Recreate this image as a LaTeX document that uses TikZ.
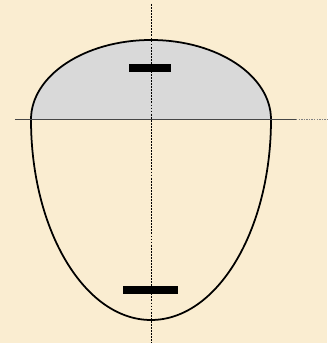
\documentclass[tikz,border=0pt]{standalone}
\usepackage{xcolor}
\definecolor{parch}{RGB}{250,237,209}
\definecolor{domegrey}{RGB}{217,217,217}
\definecolor{axgrey}{RGB}{70,70,70}
\usepackage{tikz}
\usetikzlibrary{positioning,calc}
\tikzset{
  outline/.style={draw=black, line width=1.5pt},
  bar/.style={fill=black, draw=none, inner sep=0pt, minimum height=0.24cm},
  axis/.style={draw=axgrey, line width=0.6pt},
  axisext/.style={draw=gray, line width=0.6pt, dash pattern=on 1.2pt off 1pt},
  centre/.style={draw=black, line width=0.45pt, dash pattern=on 1.6pt off 1pt}
}

\begin{document}
\begin{tikzpicture}[x=0.03cm, y=0.03cm]
  % background
  \fill[parch] (-151,119.5) rectangle (176,-223.5);
  \useasboundingbox (-151,119.5) rectangle (176,-223.5);

  % cap and body
  \fill[domegrey] (-120,0) arc[start angle=180, end angle=0, x radius=120, y radius=79.5] -- cycle;
  \draw[outline] (-120,0) arc[start angle=180, end angle=0, x radius=120, y radius=79.5];
  \draw[outline] (-120,0) arc[start angle=180, end angle=360, x radius=120, y radius=200.5];

  % axes
  \coordinate (hl) at (-136,0);
  \coordinate (hr) at (145,0);
  \coordinate (he) at (176,0);
  \coordinate (vt) at (0,115.5);
  \coordinate (vb) at (0,-223.5);
  \draw[axis] (hl) -- (hr);
  \draw[axisext] (hr) -- (he);
  \draw[centre] (vt) -- (vb);

  % bars
  \node[bar, minimum width=1.26cm] (topbar) at (-1,51.5) {};
  \node[bar, minimum width=1.64cm] (botbar) at (-0.5,-170.5) {};
\end{tikzpicture}
\end{document}
